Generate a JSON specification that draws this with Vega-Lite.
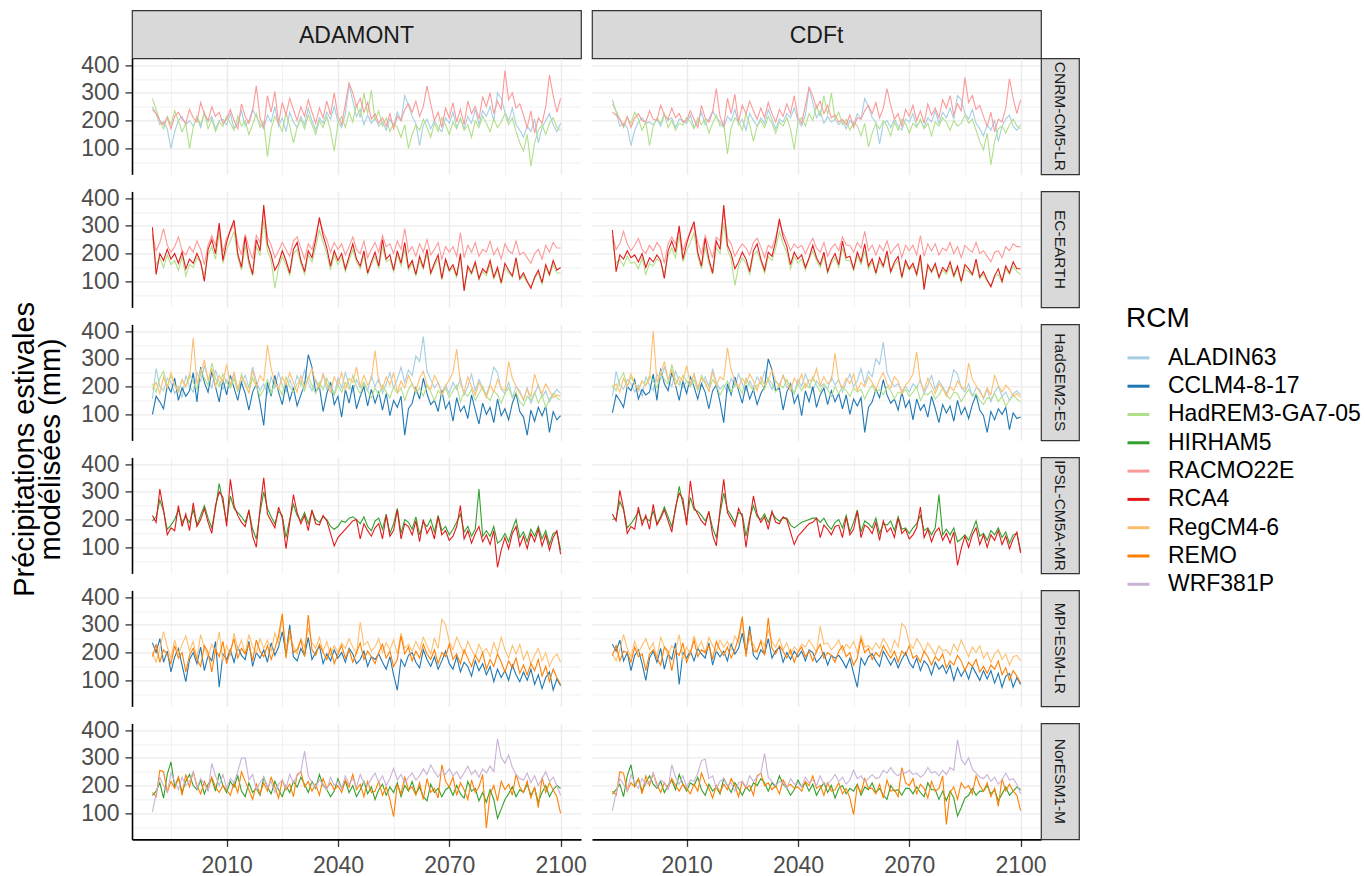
{
"$schema":"https://vega.github.io/schema/vega-lite/v6.json",
"usermeta":{"embedOptions":{"actions":false}},
"padding":{"left":10,"top":9.4,"right":2,"bottom":0},
"background":"white",
"datasets":{
"yrs":[{"k":1,"y":[1990,1991,1992,1993,1994,1995,1996,1997,1998,1999,2000,2001,2002,2003,2004,2005,2006,2007,2008,2009,2010,2011,2012,2013,2014,2015,2016,2017,2018,2019,2020,2021,2022,2023,2024,2025,2026,2027,2028,2029,2030,2031,2032,2033,2034,2035,2036,2037,2038,2039,2040,2041,2042,2043,2044,2045,2046,2047,2048,2049,2050,2051,2052,2053,2054,2055,2056,2057,2058,2059,2060,2061,2062,2063,2064,2065,2066,2067,2068,2069,2070,2071,2072,2073,2074,2075,2076,2077,2078,2079,2080,2081,2082,2083,2084,2085,2086,2087,2088,2089,2090,2091,2092,2093,2094,2095,2096,2097,2098,2099,2100]}],
"runs":[
{"m":"ADAMONT","g":"CNRM-CM5-LR","r":"ALADIN63","k":1,"v":[250,225,185,195,170,100,160,200,215,185,200,180,210,175,225,195,215,170,200,205,185,225,170,190,235,180,200,240,215,190,170,220,195,250,180,210,160,230,195,175,215,185,245,200,165,210,190,230,205,250,195,175,225,330,270,215,240,185,220,190,210,180,195,165,205,180,230,200,290,255,215,190,110,185,205,170,200,175,160,210,190,230,175,205,170,215,190,240,185,235,215,250,200,300,280,230,200,245,185,165,140,180,160,205,120,175,200,225,185,160,190]},
{"m":"ADAMONT","g":"CNRM-CM5-LR","r":"HadREM3-GA7-05","k":1,"v":[280,240,200,170,215,185,235,200,160,190,100,175,215,185,230,170,205,160,195,180,215,190,165,215,180,200,150,185,225,175,195,70,170,215,190,160,230,180,120,175,205,170,220,185,150,200,175,215,165,90,190,215,175,230,195,260,210,300,225,310,200,235,180,210,160,190,175,140,185,100,150,185,165,205,175,140,190,160,210,185,150,195,170,210,165,185,140,200,175,215,190,160,205,175,195,225,185,210,160,120,90,150,35,120,165,185,150,190,210,175,165]},
{"m":"ADAMONT","g":"CNRM-CM5-LR","r":"RACMO22E","k":1,"v":[240,225,200,185,210,170,215,230,205,190,240,210,195,265,225,200,250,215,230,190,205,240,200,170,260,215,190,235,325,210,175,290,230,305,190,265,220,280,240,200,250,215,275,230,190,245,210,270,220,300,215,185,260,335,300,250,280,230,265,205,225,190,210,180,225,170,215,200,240,260,230,270,215,250,325,260,200,230,175,245,210,265,195,240,185,270,225,250,205,285,250,300,225,270,240,380,275,300,245,260,220,175,235,155,210,190,250,365,290,230,280]},
{"m":"ADAMONT","g":"EC-EARTH","r":"HadREM3-GA7-05","k":1,"v":[260,160,185,150,195,160,175,140,190,120,160,150,185,165,120,195,225,180,275,165,215,245,280,185,140,230,160,120,225,195,320,210,175,75,150,190,160,120,200,215,165,125,195,170,225,285,240,200,140,195,160,185,135,175,215,170,145,195,125,160,190,145,225,170,180,135,195,155,215,140,165,120,175,145,200,125,155,180,105,170,135,150,115,185,80,145,125,160,105,135,120,160,110,140,90,150,130,115,170,105,120,95,80,110,130,90,150,120,160,130,130]},
{"m":"ADAMONT","g":"EC-EARTH","r":"RACMO22E","k":1,"v":[270,210,240,290,230,205,225,260,210,195,225,205,245,215,160,230,265,230,300,205,255,280,305,235,195,270,220,180,265,240,360,260,230,185,210,240,215,190,245,260,220,180,235,215,265,320,280,250,205,240,215,235,195,225,260,215,200,245,185,215,240,205,265,225,235,200,245,215,290,205,225,190,235,205,250,195,215,240,180,225,205,225,190,275,185,230,205,240,190,215,205,245,195,220,180,235,210,200,245,195,205,185,165,200,215,180,230,205,240,220,220]},
{"m":"ADAMONT","g":"EC-EARTH","r":"RCA4","k":1,"v":[295,125,200,175,215,180,200,165,205,145,180,165,200,170,100,215,250,200,310,175,240,285,320,200,150,260,175,125,250,210,375,235,195,140,165,210,175,130,215,240,175,135,210,185,250,330,265,220,155,210,175,200,145,190,235,180,155,210,130,170,205,155,250,180,195,140,210,165,240,150,175,125,190,150,215,130,165,195,110,180,140,160,120,200,65,155,130,170,110,145,130,175,115,150,95,165,140,120,185,110,130,100,75,115,140,95,160,125,175,140,150]},
{"m":"ADAMONT","g":"HadGEM2-ES","r":"ALADIN63","k":1,"v":[155,265,200,185,230,215,175,200,160,240,200,180,250,220,275,230,195,260,215,190,225,200,250,185,215,240,195,270,220,185,210,175,235,195,250,205,180,225,190,240,205,260,215,185,225,200,245,190,215,170,230,195,250,205,180,225,195,215,185,240,200,230,175,210,250,195,225,270,215,260,240,310,290,380,255,225,195,215,180,205,175,215,190,230,170,200,245,185,225,195,170,210,270,250,190,175,215,160,200,185,150,195,140,175,205,160,185,145,170,190,175]},
{"m":"ADAMONT","g":"HadGEM2-ES","r":"CCLM4-8-17","k":1,"v":[100,165,145,120,205,180,230,150,195,165,185,250,145,270,215,180,255,200,145,225,170,240,195,150,215,175,115,180,210,140,60,215,165,240,180,135,210,150,195,130,170,205,315,270,180,200,110,175,215,135,165,90,190,140,205,120,165,200,130,190,140,180,115,175,95,150,125,165,25,120,140,195,155,230,175,135,150,110,185,120,145,75,160,110,130,85,170,115,65,140,100,125,70,155,95,120,80,140,175,110,90,25,115,75,125,95,130,35,110,80,95]},
{"m":"ADAMONT","g":"HadGEM2-ES","r":"HadREM3-GA7-05","k":1,"v":[210,180,230,255,195,240,205,185,225,200,245,215,190,260,230,205,285,230,200,245,215,195,230,180,245,205,180,230,200,165,190,225,175,215,195,170,235,200,180,210,220,185,235,205,175,215,190,230,195,170,205,180,215,190,240,200,175,215,185,160,195,170,205,180,160,200,175,195,150,190,210,175,195,165,205,180,150,185,170,195,160,185,205,145,180,165,190,150,175,200,165,150,185,170,140,175,195,160,180,145,130,165,150,180,140,170,125,155,175,160,150]},
{"m":"ADAMONT","g":"HadGEM2-ES","r":"RegCM4-6","k":1,"v":[190,215,175,235,195,250,205,180,225,200,230,375,210,250,295,220,265,200,240,215,280,205,250,190,235,215,175,260,200,240,220,350,265,215,190,235,205,250,215,180,240,200,230,265,215,195,245,210,180,235,205,250,190,230,215,270,200,240,205,225,330,215,190,235,205,250,180,220,195,240,210,185,230,255,205,190,240,215,170,200,225,250,335,210,180,235,200,170,215,190,160,205,180,225,195,185,290,230,200,175,155,190,165,245,200,175,210,185,160,170,165]},
{"m":"ADAMONT","g":"IPSL-CM5A-MR","r":"HIRHAM5","k":1,"v":[195,210,270,230,165,180,200,235,190,210,190,235,180,215,250,205,170,240,330,260,190,285,240,225,210,190,230,165,130,225,300,240,210,185,230,215,135,200,255,215,195,225,185,230,200,190,210,200,175,165,175,195,190,205,210,200,185,210,175,160,195,205,165,220,150,185,240,150,200,190,165,210,145,190,175,200,155,215,160,175,145,165,190,220,155,175,140,165,310,140,160,140,175,115,125,150,120,165,200,135,155,120,165,140,175,130,160,110,150,155,90]},
{"m":"ADAMONT","g":"IPSL-CM5A-MR","r":"RCA4","k":1,"v":[215,190,310,235,145,170,160,250,175,220,160,260,175,200,240,190,150,250,300,280,175,345,250,215,190,175,235,140,100,240,350,220,195,170,245,205,95,190,290,225,185,215,160,235,185,180,215,195,150,105,135,150,165,180,195,200,130,185,160,140,170,185,130,215,140,160,235,130,185,175,145,195,120,200,150,175,130,210,145,160,125,140,175,250,130,160,115,150,175,120,145,110,160,28,90,135,95,150,175,105,140,95,150,120,165,105,145,90,135,160,75]},
{"m":"ADAMONT","g":"MPI-ESM-LR","r":"CCLM4-8-17","k":1,"v":[235,200,250,165,205,130,185,215,155,95,175,200,160,220,135,190,170,240,75,195,175,210,165,220,190,175,240,150,200,180,210,165,235,190,220,275,195,300,185,170,215,190,255,175,200,225,160,195,170,210,180,200,165,215,195,160,175,205,150,185,175,195,165,140,185,120,64,175,150,190,200,165,145,210,175,150,185,140,170,205,160,140,185,130,165,150,115,170,135,160,120,150,95,140,110,135,100,155,120,95,130,100,140,85,120,70,110,130,65,105,80]},
{"m":"ADAMONT","g":"MPI-ESM-LR","r":"RegCM4-6","k":1,"v":[200,165,215,275,220,180,245,195,230,260,205,240,175,265,215,185,230,200,275,170,225,190,270,210,245,195,265,220,200,250,215,245,205,270,230,330,210,255,225,195,250,220,290,235,215,255,205,240,190,225,200,235,215,250,220,195,310,225,240,205,220,250,200,235,210,245,195,270,215,230,205,240,210,255,225,195,250,215,320,300,240,210,255,225,195,240,210,185,230,200,215,185,235,200,255,210,180,225,195,230,175,205,160,190,215,170,200,150,180,195,165]},
{"m":"ADAMONT","g":"MPI-ESM-LR","r":"REMO","k":1,"v":[185,230,165,210,195,160,225,180,200,130,190,215,175,150,225,200,130,210,185,240,160,205,250,180,215,195,230,170,245,205,185,225,175,215,260,340,180,285,200,210,245,185,335,210,190,230,200,175,215,160,195,225,180,210,165,200,235,175,205,185,160,200,230,180,205,150,175,260,195,220,170,205,180,230,195,175,210,160,200,185,230,175,195,160,210,180,150,190,165,200,140,175,150,195,165,130,170,145,180,125,155,120,160,135,175,115,150,95,140,110,85]},
{"m":"ADAMONT","g":"NorESM1-M","r":"HIRHAM5","k":1,"v":[165,180,210,155,240,285,195,230,175,215,240,200,185,220,170,205,225,180,245,200,175,215,195,235,180,160,210,175,190,165,230,195,170,215,185,160,200,175,215,195,230,205,175,215,190,240,200,185,160,180,225,190,215,175,200,160,185,215,170,195,150,185,205,165,195,175,210,160,200,180,215,170,195,160,145,205,175,190,160,185,195,165,200,170,155,215,180,190,145,175,140,185,150,82,115,150,170,195,160,185,175,205,165,190,140,175,200,160,185,200,190]},
{"m":"ADAMONT","g":"NorESM1-M","r":"REMO","k":1,"v":[175,160,255,250,175,215,190,230,165,240,195,250,200,170,215,185,230,195,175,200,185,165,210,175,250,215,185,150,205,170,210,180,230,195,155,220,185,205,160,240,250,195,215,180,205,165,225,190,210,185,200,175,220,195,240,185,205,160,215,175,180,215,165,195,150,88,205,170,230,185,195,165,210,150,225,175,190,155,275,215,195,230,165,210,185,150,220,175,195,240,46,170,200,145,215,185,205,165,240,195,175,215,155,195,120,230,175,210,185,160,100]},
{"m":"ADAMONT","g":"NorESM1-M","r":"WRF381P","k":1,"v":[105,170,230,200,175,245,215,185,230,200,215,250,190,225,205,180,280,235,200,240,190,225,210,250,298,300,220,240,185,210,230,195,215,175,205,220,190,240,210,235,250,324,235,210,195,220,205,185,230,200,215,190,235,205,225,195,240,210,200,225,245,210,235,200,225,262,220,240,210,230,245,220,235,260,240,274,250,230,255,240,260,235,250,225,245,270,240,255,230,260,245,270,250,368,300,280,310,265,240,225,220,245,210,235,200,225,250,215,230,200,165]},
{"m":"CDFt","g":"CNRM-CM5-LR","r":"ALADIN63","k":1,"v":[275,230,180,190,175,110,165,195,210,190,195,185,205,180,220,200,210,175,205,200,190,220,175,195,230,185,205,235,210,195,175,215,200,240,185,205,165,225,200,180,210,190,240,205,170,205,195,225,210,245,200,180,220,320,265,210,235,190,215,195,205,185,200,170,200,185,225,205,280,250,210,195,115,190,200,175,205,180,165,205,195,225,180,200,175,210,195,235,190,230,210,245,205,290,275,225,205,240,190,170,145,185,165,200,125,180,205,220,180,165,185]},
{"m":"CDFt","g":"CNRM-CM5-LR","r":"HadREM3-GA7-05","k":1,"v":[260,235,205,175,210,190,230,205,165,195,110,180,210,190,225,175,200,165,190,185,210,195,170,210,185,205,155,190,220,180,190,80,175,210,195,165,225,185,125,180,200,175,215,190,155,195,180,210,170,95,195,210,180,225,200,255,215,290,220,300,205,230,185,205,165,195,180,145,190,105,155,190,170,200,180,145,195,165,205,190,155,190,175,205,170,190,145,195,180,210,195,165,200,180,190,220,190,205,165,125,95,155,40,125,170,180,155,185,205,180,170]},
{"m":"CDFt","g":"CNRM-CM5-LR","r":"RACMO22E","k":1,"v":[230,220,205,180,215,175,210,225,200,195,235,205,200,255,220,205,245,210,225,195,200,235,205,175,255,210,195,230,315,215,180,280,225,295,195,255,225,270,235,205,245,210,265,225,195,240,215,260,225,290,210,190,255,320,290,245,270,225,255,210,220,195,205,185,220,175,210,205,235,255,225,265,210,245,315,255,205,225,180,240,215,255,200,235,190,260,220,245,210,275,245,290,220,260,235,355,265,290,240,255,215,180,230,160,205,195,245,350,280,225,275]},
{"m":"CDFt","g":"EC-EARTH","r":"HadREM3-GA7-05","k":1,"v":[250,165,180,155,190,165,170,145,185,125,165,155,180,170,125,190,220,185,265,170,210,240,275,190,145,225,165,125,220,200,310,215,180,85,155,185,165,125,195,210,170,130,190,175,220,280,235,205,145,190,165,180,140,180,210,175,150,190,130,165,185,150,220,175,175,140,190,160,210,145,170,125,170,150,195,130,160,175,110,165,140,155,120,180,85,150,130,155,110,140,125,155,115,145,95,145,135,120,165,110,125,100,85,115,125,95,145,125,155,135,125]},
{"m":"CDFt","g":"EC-EARTH","r":"RACMO22E","k":1,"v":[265,215,235,280,235,210,230,255,215,200,230,210,240,220,165,235,260,235,290,210,250,275,300,240,200,265,225,185,260,245,350,255,235,190,215,235,220,195,240,255,225,185,230,220,260,310,275,245,210,235,220,230,200,230,255,220,205,240,190,220,235,210,260,230,230,205,240,220,280,210,230,195,230,210,245,200,220,235,185,230,210,230,195,265,190,235,210,235,195,220,210,240,200,225,185,230,215,205,240,200,210,190,170,205,210,185,225,210,235,225,225]},
{"m":"CDFt","g":"EC-EARTH","r":"RCA4","k":1,"v":[285,135,195,180,210,185,195,170,200,150,185,170,195,175,110,210,245,205,300,180,235,280,315,205,155,255,180,130,245,215,375,230,200,145,170,205,180,135,210,235,180,140,205,190,245,325,260,225,160,205,180,195,150,185,230,185,160,205,135,175,200,160,245,185,190,145,205,170,235,155,180,130,185,155,210,135,170,190,115,175,145,165,125,195,70,160,135,165,115,150,135,170,120,155,100,160,145,125,180,115,135,105,80,120,145,100,155,130,170,145,145]},
{"m":"CDFt","g":"HadGEM2-ES","r":"ALADIN63","k":1,"v":[165,255,205,190,225,210,180,205,165,235,205,185,245,225,270,225,200,255,220,195,220,205,245,190,210,235,200,265,215,190,205,180,230,200,245,210,185,220,195,235,210,255,220,190,220,205,240,195,210,175,225,200,245,210,185,220,200,210,190,235,205,225,180,215,245,200,220,265,210,255,235,300,280,360,250,220,200,210,185,200,180,210,195,225,175,205,240,190,220,200,175,205,260,245,195,180,210,165,195,190,155,190,145,180,200,165,180,150,175,185,170]},
{"m":"CDFt","g":"HadGEM2-ES","r":"CCLM4-8-17","k":1,"v":[105,170,150,125,200,185,225,155,190,170,180,245,150,265,210,185,250,205,150,220,175,235,200,155,210,180,120,185,205,145,70,210,170,235,185,140,205,155,190,135,175,200,300,260,185,195,115,180,210,140,170,95,185,145,200,125,170,195,135,185,145,175,120,170,100,155,130,160,35,125,145,190,160,225,170,140,155,115,180,125,150,80,155,115,135,90,165,120,70,135,105,130,75,150,100,125,85,135,170,115,95,35,110,80,120,100,125,45,105,85,90]},
{"m":"CDFt","g":"HadGEM2-ES","r":"HadREM3-GA7-05","k":1,"v":[205,185,225,250,200,235,210,190,220,205,240,220,195,255,225,210,280,225,205,240,220,200,225,185,240,210,185,225,205,170,195,220,180,210,200,175,230,205,185,205,215,190,230,210,180,210,195,225,200,175,210,185,210,195,235,205,180,210,190,165,200,175,200,185,165,195,180,190,155,185,205,180,190,170,200,185,155,180,175,190,165,180,200,150,175,170,185,155,170,195,170,155,180,175,145,170,190,165,175,150,135,160,155,175,145,165,130,150,170,155,145]},
{"m":"CDFt","g":"HadGEM2-ES","r":"RegCM4-6","k":1,"v":[195,210,180,230,200,245,210,185,220,205,225,400,215,245,290,225,260,205,235,220,275,210,245,195,230,220,180,255,205,235,225,340,260,220,195,230,210,245,220,185,235,205,225,260,220,200,240,215,185,230,210,245,195,225,220,265,205,235,210,220,320,220,195,230,210,245,185,215,200,235,215,190,225,250,210,195,235,220,175,205,220,245,325,215,185,230,205,175,210,195,165,200,185,220,200,190,285,225,205,180,160,195,170,240,205,180,205,190,165,175,160]},
{"m":"CDFt","g":"IPSL-CM5A-MR","r":"HIRHAM5","k":1,"v":[200,205,265,235,170,185,205,230,195,205,195,230,185,210,245,210,175,235,320,255,195,280,235,230,215,195,225,170,135,220,295,235,215,190,225,220,140,205,250,210,200,220,190,225,205,195,205,205,180,170,180,190,195,200,205,205,190,205,180,165,190,200,170,215,155,190,235,155,195,185,170,205,150,185,180,195,160,210,165,170,150,170,185,215,160,170,145,170,290,145,165,145,170,120,130,145,125,160,195,140,150,125,160,145,170,135,155,115,145,150,85]},
{"m":"CDFt","g":"IPSL-CM5A-MR","r":"RCA4","k":1,"v":[220,195,305,240,150,175,165,245,180,215,165,255,180,205,235,195,155,245,295,275,180,340,245,220,195,180,230,145,105,235,345,225,200,175,240,210,100,195,285,220,190,210,165,230,190,185,210,200,155,110,140,155,170,185,190,205,135,180,165,145,175,180,135,210,145,165,230,135,180,170,150,190,125,195,155,170,135,205,150,165,130,145,170,245,135,165,120,155,170,125,150,115,155,35,95,140,100,145,170,110,145,100,145,125,160,110,140,95,130,155,80]},
{"m":"CDFt","g":"MPI-ESM-LR","r":"CCLM4-8-17","k":1,"v":[230,205,245,170,200,135,190,210,160,100,180,205,165,215,140,195,175,235,85,200,180,205,170,215,195,180,235,155,205,185,205,170,230,195,215,270,200,295,190,175,210,195,250,180,205,220,165,200,175,205,185,205,170,210,200,165,180,200,155,190,180,190,170,145,180,125,75,180,155,185,195,170,150,205,180,155,180,145,175,200,165,145,180,135,170,155,120,165,140,155,125,155,100,145,115,140,105,150,125,100,135,105,135,90,125,75,115,125,75,110,85]},
{"m":"CDFt","g":"MPI-ESM-LR","r":"RegCM4-6","k":1,"v":[195,170,210,265,215,185,240,200,225,250,210,235,180,255,220,190,225,205,265,175,220,195,260,215,240,200,255,225,205,245,220,240,210,260,235,315,215,250,230,200,245,225,280,240,220,250,210,235,195,220,205,230,220,245,225,200,295,230,235,210,225,245,205,230,215,240,200,260,220,225,210,235,215,250,230,200,245,220,305,290,235,215,250,230,200,235,215,190,225,205,210,190,230,205,245,215,185,220,200,225,180,200,165,195,210,175,195,155,185,190,170]},
{"m":"CDFt","g":"MPI-ESM-LR","r":"REMO","k":1,"v":[190,225,170,205,200,165,220,185,195,135,195,210,180,155,220,205,135,205,190,235,165,200,245,185,210,200,225,175,240,210,190,220,180,210,255,330,185,280,205,205,240,190,325,215,195,225,205,180,210,165,200,220,185,205,170,205,230,180,200,190,165,205,225,185,200,155,180,250,200,215,175,200,185,225,200,180,205,165,205,190,225,180,190,165,205,185,155,185,170,195,145,170,155,190,170,135,165,150,175,130,150,125,155,140,170,120,145,100,135,115,90]},
{"m":"CDFt","g":"NorESM1-M","r":"HIRHAM5","k":1,"v":[170,185,205,160,235,275,200,225,180,210,235,205,190,215,175,200,220,185,240,205,180,210,200,230,185,165,205,180,195,170,225,200,175,210,190,165,195,180,210,200,225,210,180,210,195,235,205,190,165,185,220,195,210,180,205,165,190,210,175,200,155,190,200,170,190,180,205,165,195,185,210,175,190,165,150,200,180,185,165,190,190,170,195,175,160,210,185,185,150,180,145,180,155,90,120,155,165,190,165,180,180,200,170,185,145,170,195,165,180,195,185]},
{"m":"CDFt","g":"NorESM1-M","r":"REMO","k":1,"v":[180,165,250,245,180,210,195,225,170,235,200,245,205,175,210,190,225,200,180,205,190,170,205,180,245,210,190,155,200,175,205,185,225,200,160,215,190,200,165,235,245,200,210,185,200,170,220,195,205,190,195,180,215,200,235,190,200,165,210,180,185,210,170,190,155,95,200,175,225,190,190,170,205,155,220,180,185,160,265,210,200,225,170,205,190,155,215,180,190,235,60,175,195,150,210,190,200,170,235,200,180,210,160,190,125,225,180,205,180,165,110]},
{"m":"CDFt","g":"NorESM1-M","r":"WRF381P","k":1,"v":[110,175,225,205,180,240,210,190,225,205,210,245,195,220,210,185,275,230,205,235,195,220,215,245,290,295,225,235,190,215,225,200,210,180,210,215,195,235,215,230,245,315,230,215,200,215,210,190,225,205,210,195,230,210,220,200,235,205,205,220,240,215,230,205,220,255,225,235,215,225,240,225,230,255,245,265,245,235,250,245,255,240,245,230,240,265,245,250,235,255,240,265,255,365,295,275,300,260,245,230,225,240,215,230,205,220,245,220,225,205,170]}
]
},
"config":{
"font":"Liberation Sans",
"view":{"stroke":"transparent"},
"axis":{"labelFont":"Liberation Sans","labelFontSize":23,"labelColor":"#4d4d4d","gridColor":"#ebebeb","domainColor":"#000000","domainWidth":1.6,"tickColor":"#333333","tickWidth":1.3,"tickSize":7,"labelPadding":6,"labelOverlap":false,"labelFlush":false},
"axisX":{"labelPadding":8},
"legend":{"orient":"none","legendX":994,"legendY":295,"padding":0,"titleFont":"Liberation Sans","titleFontSize":28,"titleFontWeight":"normal","titleColor":"#000000","titlePadding":12,"labelFont":"Liberation Sans","labelFontSize":23,"labelColor":"#000000","labelLimit":400,"symbolType":"stroke","symbolStrokeWidth":3,"symbolSize":484,"rowPadding":3.3,"labelOffset":17}
},
"concat":[
{"width":449,"height":48,"view":{"fill":"#d9d9d9","stroke":"#333333","strokeWidth":1.2},"data":{"values":[{"t":"ADAMONT"}]},"mark":{"type":"text","fontSize":23,"color":"#1a1a1a","dy":2},"encoding":{"text":{"field":"t"}}},
{"width":11,"height":1,"data":{"values":[]},"mark":"point"},
{"width":449,"height":48,"view":{"fill":"#d9d9d9","stroke":"#333333","strokeWidth":1.2},"data":{"values":[{"t":"CDFt"}]},"mark":{"type":"text","fontSize":23,"color":"#1a1a1a","dy":2},"encoding":{"text":{"field":"t"}}},
{"width":1,"height":1,"data":{"values":[]},"mark":"point"},

{"width":449,"height":116,"data":{"name":"runs"},"transform":[{"filter":"datum.m=='ADAMONT'&&datum.g=='CNRM-CM5-LR'"},{"lookup":"k","from":{"data":{"name":"yrs"},"key":"k","fields":["y"]}},{"flatten":["y","v"]}],"mark":{"type":"line","strokeWidth":1.1},"encoding":{"x":{"field":"y","type":"quantitative","scale":{"domain":[1984.5,2105.5],"nice":false,"zero":false},"axis":{"title":null,"values":[1995,2010,2025,2040,2055,2070,2085,2100],"domain":false,"ticks":false,"labels":false,"gridWidth":{"condition":{"test":"(datum.value-2010)%30!=0","value":0.7},"value":1.4}}},"y":{"field":"v","type":"quantitative","scale":{"domain":[6,424],"nice":false,"zero":false},"axis":{"title":null,"values":[50,100,150,200,250,300,350,400],"labelExpr":"datum.value%100!=0?'':datum.label","gridWidth":{"condition":{"test":"datum.value%100!=0","value":0.7},"value":1.4},"tickOpacity":{"condition":{"test":"datum.value%100!=0","value":0},"value":1}}},"color":{"field":"r","type":"nominal","title":"RCM","scale":{"domain":["ALADIN63","CCLM4-8-17","HadREM3-GA7-05","HIRHAM5","RACMO22E","RCA4","RegCM4-6","REMO","WRF381P"],"range":["#a6cee3","#1f78b4","#b2df8a","#33a02c","#fb9a99","#e31a1c","#fdbf6f","#ff7f00","#cab2d6"]}}}},
{"width":11,"height":1,"data":{"values":[]},"mark":"point"},
{"width":449,"height":116,"data":{"name":"runs"},"transform":[{"filter":"datum.m=='CDFt'&&datum.g=='CNRM-CM5-LR'"},{"lookup":"k","from":{"data":{"name":"yrs"},"key":"k","fields":["y"]}},{"flatten":["y","v"]}],"mark":{"type":"line","strokeWidth":1.1},"encoding":{"x":{"field":"y","type":"quantitative","scale":{"domain":[1984.5,2105.5],"nice":false,"zero":false},"axis":{"title":null,"values":[1995,2010,2025,2040,2055,2070,2085,2100],"domain":false,"ticks":false,"labels":false,"gridWidth":{"condition":{"test":"(datum.value-2010)%30!=0","value":0.7},"value":1.4}}},"y":{"field":"v","type":"quantitative","scale":{"domain":[6,424],"nice":false,"zero":false},"axis":{"title":null,"values":[50,100,150,200,250,300,350,400],"domain":false,"ticks":false,"labels":false,"gridWidth":{"condition":{"test":"datum.value%100!=0","value":0.7},"value":1.4}}},"color":{"field":"r","type":"nominal","title":"RCM","scale":{"domain":["ALADIN63","CCLM4-8-17","HadREM3-GA7-05","HIRHAM5","RACMO22E","RCA4","RegCM4-6","REMO","WRF381P"],"range":["#a6cee3","#1f78b4","#b2df8a","#33a02c","#fb9a99","#e31a1c","#fdbf6f","#ff7f00","#cab2d6"]}}}},
{"width":38,"height":116,"view":{"fill":"#d9d9d9","stroke":"#333333","strokeWidth":1.2},"data":{"values":[{"t":"CNRM-CM5-LR"}]},"mark":{"type":"text","fontSize":15.5,"angle":90,"color":"#1a1a1a"},"encoding":{"text":{"field":"t"}}},

{"width":1,"height":17,"data":{"values":[]},"mark":"point"},
{"width":1,"height":17,"data":{"values":[]},"mark":"point"},
{"width":1,"height":17,"data":{"values":[]},"mark":"point"},
{"width":1,"height":17,"data":{"values":[]},"mark":"point"},

{"width":449,"height":116,"data":{"name":"runs"},"transform":[{"filter":"datum.m=='ADAMONT'&&datum.g=='EC-EARTH'"},{"lookup":"k","from":{"data":{"name":"yrs"},"key":"k","fields":["y"]}},{"flatten":["y","v"]}],"mark":{"type":"line","strokeWidth":1.1},"encoding":{"x":{"field":"y","type":"quantitative","scale":{"domain":[1984.5,2105.5],"nice":false,"zero":false},"axis":{"title":null,"values":[1995,2010,2025,2040,2055,2070,2085,2100],"domain":false,"ticks":false,"labels":false,"gridWidth":{"condition":{"test":"(datum.value-2010)%30!=0","value":0.7},"value":1.4}}},"y":{"field":"v","type":"quantitative","scale":{"domain":[6,424],"nice":false,"zero":false},"axis":{"title":null,"values":[50,100,150,200,250,300,350,400],"labelExpr":"datum.value%100!=0?'':datum.label","gridWidth":{"condition":{"test":"datum.value%100!=0","value":0.7},"value":1.4},"tickOpacity":{"condition":{"test":"datum.value%100!=0","value":0},"value":1}}},"color":{"field":"r","type":"nominal","title":"RCM","scale":{"domain":["ALADIN63","CCLM4-8-17","HadREM3-GA7-05","HIRHAM5","RACMO22E","RCA4","RegCM4-6","REMO","WRF381P"],"range":["#a6cee3","#1f78b4","#b2df8a","#33a02c","#fb9a99","#e31a1c","#fdbf6f","#ff7f00","#cab2d6"]}}}},
{"width":11,"height":1,"data":{"values":[]},"mark":"point"},
{"width":449,"height":116,"data":{"name":"runs"},"transform":[{"filter":"datum.m=='CDFt'&&datum.g=='EC-EARTH'"},{"lookup":"k","from":{"data":{"name":"yrs"},"key":"k","fields":["y"]}},{"flatten":["y","v"]}],"mark":{"type":"line","strokeWidth":1.1},"encoding":{"x":{"field":"y","type":"quantitative","scale":{"domain":[1984.5,2105.5],"nice":false,"zero":false},"axis":{"title":null,"values":[1995,2010,2025,2040,2055,2070,2085,2100],"domain":false,"ticks":false,"labels":false,"gridWidth":{"condition":{"test":"(datum.value-2010)%30!=0","value":0.7},"value":1.4}}},"y":{"field":"v","type":"quantitative","scale":{"domain":[6,424],"nice":false,"zero":false},"axis":{"title":null,"values":[50,100,150,200,250,300,350,400],"domain":false,"ticks":false,"labels":false,"gridWidth":{"condition":{"test":"datum.value%100!=0","value":0.7},"value":1.4}}},"color":{"field":"r","type":"nominal","title":"RCM","scale":{"domain":["ALADIN63","CCLM4-8-17","HadREM3-GA7-05","HIRHAM5","RACMO22E","RCA4","RegCM4-6","REMO","WRF381P"],"range":["#a6cee3","#1f78b4","#b2df8a","#33a02c","#fb9a99","#e31a1c","#fdbf6f","#ff7f00","#cab2d6"]}}}},
{"width":38,"height":116,"view":{"fill":"#d9d9d9","stroke":"#333333","strokeWidth":1.2},"data":{"values":[{"t":"EC-EARTH"}]},"mark":{"type":"text","fontSize":15.5,"angle":90,"color":"#1a1a1a"},"encoding":{"text":{"field":"t"}}},

{"width":1,"height":17,"data":{"values":[]},"mark":"point"},
{"width":1,"height":17,"data":{"values":[]},"mark":"point"},
{"width":1,"height":17,"data":{"values":[]},"mark":"point"},
{"width":1,"height":17,"data":{"values":[]},"mark":"point"},

{"width":449,"height":116,"data":{"name":"runs"},"transform":[{"filter":"datum.m=='ADAMONT'&&datum.g=='HadGEM2-ES'"},{"lookup":"k","from":{"data":{"name":"yrs"},"key":"k","fields":["y"]}},{"flatten":["y","v"]}],"mark":{"type":"line","strokeWidth":1.1},"encoding":{"x":{"field":"y","type":"quantitative","scale":{"domain":[1984.5,2105.5],"nice":false,"zero":false},"axis":{"title":null,"values":[1995,2010,2025,2040,2055,2070,2085,2100],"domain":false,"ticks":false,"labels":false,"gridWidth":{"condition":{"test":"(datum.value-2010)%30!=0","value":0.7},"value":1.4}}},"y":{"field":"v","type":"quantitative","scale":{"domain":[6,424],"nice":false,"zero":false},"axis":{"title":["Précipitations estivales","modélisées (mm)"],"titleFont":"Liberation Sans","titleFontSize":29,"titleFontWeight":"normal","titleColor":"#000000","titleLineHeight":26,"titleY":124.5,"titlePadding":15,"values":[50,100,150,200,250,300,350,400],"labelExpr":"datum.value%100!=0?'':datum.label","gridWidth":{"condition":{"test":"datum.value%100!=0","value":0.7},"value":1.4},"tickOpacity":{"condition":{"test":"datum.value%100!=0","value":0},"value":1}}},"color":{"field":"r","type":"nominal","title":"RCM","scale":{"domain":["ALADIN63","CCLM4-8-17","HadREM3-GA7-05","HIRHAM5","RACMO22E","RCA4","RegCM4-6","REMO","WRF381P"],"range":["#a6cee3","#1f78b4","#b2df8a","#33a02c","#fb9a99","#e31a1c","#fdbf6f","#ff7f00","#cab2d6"]}}}},
{"width":11,"height":1,"data":{"values":[]},"mark":"point"},
{"width":449,"height":116,"data":{"name":"runs"},"transform":[{"filter":"datum.m=='CDFt'&&datum.g=='HadGEM2-ES'"},{"lookup":"k","from":{"data":{"name":"yrs"},"key":"k","fields":["y"]}},{"flatten":["y","v"]}],"mark":{"type":"line","strokeWidth":1.1},"encoding":{"x":{"field":"y","type":"quantitative","scale":{"domain":[1984.5,2105.5],"nice":false,"zero":false},"axis":{"title":null,"values":[1995,2010,2025,2040,2055,2070,2085,2100],"domain":false,"ticks":false,"labels":false,"gridWidth":{"condition":{"test":"(datum.value-2010)%30!=0","value":0.7},"value":1.4}}},"y":{"field":"v","type":"quantitative","scale":{"domain":[6,424],"nice":false,"zero":false},"axis":{"title":null,"values":[50,100,150,200,250,300,350,400],"domain":false,"ticks":false,"labels":false,"gridWidth":{"condition":{"test":"datum.value%100!=0","value":0.7},"value":1.4}}},"color":{"field":"r","type":"nominal","title":"RCM","scale":{"domain":["ALADIN63","CCLM4-8-17","HadREM3-GA7-05","HIRHAM5","RACMO22E","RCA4","RegCM4-6","REMO","WRF381P"],"range":["#a6cee3","#1f78b4","#b2df8a","#33a02c","#fb9a99","#e31a1c","#fdbf6f","#ff7f00","#cab2d6"]}}}},
{"width":38,"height":116,"view":{"fill":"#d9d9d9","stroke":"#333333","strokeWidth":1.2},"data":{"values":[{"t":"HadGEM2-ES"}]},"mark":{"type":"text","fontSize":15.5,"angle":90,"color":"#1a1a1a"},"encoding":{"text":{"field":"t"}}},

{"width":1,"height":17,"data":{"values":[]},"mark":"point"},
{"width":1,"height":17,"data":{"values":[]},"mark":"point"},
{"width":1,"height":17,"data":{"values":[]},"mark":"point"},
{"width":1,"height":17,"data":{"values":[]},"mark":"point"},

{"width":449,"height":116,"data":{"name":"runs"},"transform":[{"filter":"datum.m=='ADAMONT'&&datum.g=='IPSL-CM5A-MR'"},{"lookup":"k","from":{"data":{"name":"yrs"},"key":"k","fields":["y"]}},{"flatten":["y","v"]}],"mark":{"type":"line","strokeWidth":1.1},"encoding":{"x":{"field":"y","type":"quantitative","scale":{"domain":[1984.5,2105.5],"nice":false,"zero":false},"axis":{"title":null,"values":[1995,2010,2025,2040,2055,2070,2085,2100],"domain":false,"ticks":false,"labels":false,"gridWidth":{"condition":{"test":"(datum.value-2010)%30!=0","value":0.7},"value":1.4}}},"y":{"field":"v","type":"quantitative","scale":{"domain":[6,424],"nice":false,"zero":false},"axis":{"title":null,"values":[50,100,150,200,250,300,350,400],"labelExpr":"datum.value%100!=0?'':datum.label","gridWidth":{"condition":{"test":"datum.value%100!=0","value":0.7},"value":1.4},"tickOpacity":{"condition":{"test":"datum.value%100!=0","value":0},"value":1}}},"color":{"field":"r","type":"nominal","title":"RCM","scale":{"domain":["ALADIN63","CCLM4-8-17","HadREM3-GA7-05","HIRHAM5","RACMO22E","RCA4","RegCM4-6","REMO","WRF381P"],"range":["#a6cee3","#1f78b4","#b2df8a","#33a02c","#fb9a99","#e31a1c","#fdbf6f","#ff7f00","#cab2d6"]}}}},
{"width":11,"height":1,"data":{"values":[]},"mark":"point"},
{"width":449,"height":116,"data":{"name":"runs"},"transform":[{"filter":"datum.m=='CDFt'&&datum.g=='IPSL-CM5A-MR'"},{"lookup":"k","from":{"data":{"name":"yrs"},"key":"k","fields":["y"]}},{"flatten":["y","v"]}],"mark":{"type":"line","strokeWidth":1.1},"encoding":{"x":{"field":"y","type":"quantitative","scale":{"domain":[1984.5,2105.5],"nice":false,"zero":false},"axis":{"title":null,"values":[1995,2010,2025,2040,2055,2070,2085,2100],"domain":false,"ticks":false,"labels":false,"gridWidth":{"condition":{"test":"(datum.value-2010)%30!=0","value":0.7},"value":1.4}}},"y":{"field":"v","type":"quantitative","scale":{"domain":[6,424],"nice":false,"zero":false},"axis":{"title":null,"values":[50,100,150,200,250,300,350,400],"domain":false,"ticks":false,"labels":false,"gridWidth":{"condition":{"test":"datum.value%100!=0","value":0.7},"value":1.4}}},"color":{"field":"r","type":"nominal","title":"RCM","scale":{"domain":["ALADIN63","CCLM4-8-17","HadREM3-GA7-05","HIRHAM5","RACMO22E","RCA4","RegCM4-6","REMO","WRF381P"],"range":["#a6cee3","#1f78b4","#b2df8a","#33a02c","#fb9a99","#e31a1c","#fdbf6f","#ff7f00","#cab2d6"]}}}},
{"width":38,"height":116,"view":{"fill":"#d9d9d9","stroke":"#333333","strokeWidth":1.2},"data":{"values":[{"t":"IPSL-CM5A-MR"}]},"mark":{"type":"text","fontSize":15.5,"angle":90,"color":"#1a1a1a"},"encoding":{"text":{"field":"t"}}},

{"width":1,"height":17,"data":{"values":[]},"mark":"point"},
{"width":1,"height":17,"data":{"values":[]},"mark":"point"},
{"width":1,"height":17,"data":{"values":[]},"mark":"point"},
{"width":1,"height":17,"data":{"values":[]},"mark":"point"},

{"width":449,"height":116,"data":{"name":"runs"},"transform":[{"filter":"datum.m=='ADAMONT'&&datum.g=='MPI-ESM-LR'"},{"lookup":"k","from":{"data":{"name":"yrs"},"key":"k","fields":["y"]}},{"flatten":["y","v"]}],"mark":{"type":"line","strokeWidth":1.1},"encoding":{"x":{"field":"y","type":"quantitative","scale":{"domain":[1984.5,2105.5],"nice":false,"zero":false},"axis":{"title":null,"values":[1995,2010,2025,2040,2055,2070,2085,2100],"domain":false,"ticks":false,"labels":false,"gridWidth":{"condition":{"test":"(datum.value-2010)%30!=0","value":0.7},"value":1.4}}},"y":{"field":"v","type":"quantitative","scale":{"domain":[6,424],"nice":false,"zero":false},"axis":{"title":null,"values":[50,100,150,200,250,300,350,400],"labelExpr":"datum.value%100!=0?'':datum.label","gridWidth":{"condition":{"test":"datum.value%100!=0","value":0.7},"value":1.4},"tickOpacity":{"condition":{"test":"datum.value%100!=0","value":0},"value":1}}},"color":{"field":"r","type":"nominal","title":"RCM","scale":{"domain":["ALADIN63","CCLM4-8-17","HadREM3-GA7-05","HIRHAM5","RACMO22E","RCA4","RegCM4-6","REMO","WRF381P"],"range":["#a6cee3","#1f78b4","#b2df8a","#33a02c","#fb9a99","#e31a1c","#fdbf6f","#ff7f00","#cab2d6"]}}}},
{"width":11,"height":1,"data":{"values":[]},"mark":"point"},
{"width":449,"height":116,"data":{"name":"runs"},"transform":[{"filter":"datum.m=='CDFt'&&datum.g=='MPI-ESM-LR'"},{"lookup":"k","from":{"data":{"name":"yrs"},"key":"k","fields":["y"]}},{"flatten":["y","v"]}],"mark":{"type":"line","strokeWidth":1.1},"encoding":{"x":{"field":"y","type":"quantitative","scale":{"domain":[1984.5,2105.5],"nice":false,"zero":false},"axis":{"title":null,"values":[1995,2010,2025,2040,2055,2070,2085,2100],"domain":false,"ticks":false,"labels":false,"gridWidth":{"condition":{"test":"(datum.value-2010)%30!=0","value":0.7},"value":1.4}}},"y":{"field":"v","type":"quantitative","scale":{"domain":[6,424],"nice":false,"zero":false},"axis":{"title":null,"values":[50,100,150,200,250,300,350,400],"domain":false,"ticks":false,"labels":false,"gridWidth":{"condition":{"test":"datum.value%100!=0","value":0.7},"value":1.4}}},"color":{"field":"r","type":"nominal","title":"RCM","scale":{"domain":["ALADIN63","CCLM4-8-17","HadREM3-GA7-05","HIRHAM5","RACMO22E","RCA4","RegCM4-6","REMO","WRF381P"],"range":["#a6cee3","#1f78b4","#b2df8a","#33a02c","#fb9a99","#e31a1c","#fdbf6f","#ff7f00","#cab2d6"]}}}},
{"width":38,"height":116,"view":{"fill":"#d9d9d9","stroke":"#333333","strokeWidth":1.2},"data":{"values":[{"t":"MPI-ESM-LR"}]},"mark":{"type":"text","fontSize":15.5,"angle":90,"color":"#1a1a1a"},"encoding":{"text":{"field":"t"}}},

{"width":1,"height":17,"data":{"values":[]},"mark":"point"},
{"width":1,"height":17,"data":{"values":[]},"mark":"point"},
{"width":1,"height":17,"data":{"values":[]},"mark":"point"},
{"width":1,"height":17,"data":{"values":[]},"mark":"point"},

{"width":449,"height":116,"data":{"name":"runs"},"transform":[{"filter":"datum.m=='ADAMONT'&&datum.g=='NorESM1-M'"},{"lookup":"k","from":{"data":{"name":"yrs"},"key":"k","fields":["y"]}},{"flatten":["y","v"]}],"mark":{"type":"line","strokeWidth":1.1},"encoding":{"x":{"field":"y","type":"quantitative","scale":{"domain":[1984.5,2105.5],"nice":false,"zero":false},"axis":{"title":null,"values":[1995,2010,2025,2040,2055,2070,2085,2100],"format":"d","labelExpr":"(datum.value-2010)%30!=0?'':datum.label","gridWidth":{"condition":{"test":"(datum.value-2010)%30!=0","value":0.7},"value":1.4},"tickOpacity":{"condition":{"test":"(datum.value-2010)%30!=0","value":0},"value":1}}},"y":{"field":"v","type":"quantitative","scale":{"domain":[6,424],"nice":false,"zero":false},"axis":{"title":null,"values":[50,100,150,200,250,300,350,400],"labelExpr":"datum.value%100!=0?'':datum.label","gridWidth":{"condition":{"test":"datum.value%100!=0","value":0.7},"value":1.4},"tickOpacity":{"condition":{"test":"datum.value%100!=0","value":0},"value":1}}},"color":{"field":"r","type":"nominal","title":"RCM","scale":{"domain":["ALADIN63","CCLM4-8-17","HadREM3-GA7-05","HIRHAM5","RACMO22E","RCA4","RegCM4-6","REMO","WRF381P"],"range":["#a6cee3","#1f78b4","#b2df8a","#33a02c","#fb9a99","#e31a1c","#fdbf6f","#ff7f00","#cab2d6"]}}}},
{"width":11,"height":1,"data":{"values":[]},"mark":"point"},
{"width":449,"height":116,"data":{"name":"runs"},"transform":[{"filter":"datum.m=='CDFt'&&datum.g=='NorESM1-M'"},{"lookup":"k","from":{"data":{"name":"yrs"},"key":"k","fields":["y"]}},{"flatten":["y","v"]}],"mark":{"type":"line","strokeWidth":1.1},"encoding":{"x":{"field":"y","type":"quantitative","scale":{"domain":[1984.5,2105.5],"nice":false,"zero":false},"axis":{"title":null,"values":[1995,2010,2025,2040,2055,2070,2085,2100],"format":"d","labelExpr":"(datum.value-2010)%30!=0?'':datum.label","gridWidth":{"condition":{"test":"(datum.value-2010)%30!=0","value":0.7},"value":1.4},"tickOpacity":{"condition":{"test":"(datum.value-2010)%30!=0","value":0},"value":1}}},"y":{"field":"v","type":"quantitative","scale":{"domain":[6,424],"nice":false,"zero":false},"axis":{"title":null,"values":[50,100,150,200,250,300,350,400],"domain":false,"ticks":false,"labels":false,"gridWidth":{"condition":{"test":"datum.value%100!=0","value":0.7},"value":1.4}}},"color":{"field":"r","type":"nominal","title":"RCM","scale":{"domain":["ALADIN63","CCLM4-8-17","HadREM3-GA7-05","HIRHAM5","RACMO22E","RCA4","RegCM4-6","REMO","WRF381P"],"range":["#a6cee3","#1f78b4","#b2df8a","#33a02c","#fb9a99","#e31a1c","#fdbf6f","#ff7f00","#cab2d6"]}}}},
{"width":38,"height":116,"view":{"fill":"#d9d9d9","stroke":"#333333","strokeWidth":1.2},"data":{"values":[{"t":"NorESM1-M"}]},"mark":{"type":"text","fontSize":15.5,"angle":90,"color":"#1a1a1a"},"encoding":{"text":{"field":"t"}}}
],
"columns":4,
"spacing":0,
"bounds":"flush",
"align":"each"
}
